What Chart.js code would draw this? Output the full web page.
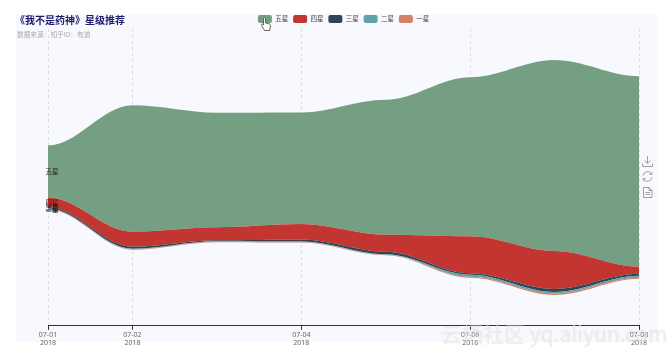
<!DOCTYPE html>
<html>
<head>
<meta charset="utf-8">
<script src="https://cdn.jsdelivr.net/npm/chart.js@4/dist/chart.umd.min.js"></script>
<style>
    html, body { margin: 0; padding: 0; background: #fff; }
    #wrap { position: relative; width: 672px; height: 355px; overflow: hidden; font-family: "Noto Sans CJK SC", sans-serif; }
    #panel { position: absolute; left: 16px; top: 14px; width: 642px; height: 328px; background: #f8f9fe; border-radius: 3px; }
    #chartBox { position: absolute; left: 0; top: 0; width: 672px; height: 355px; }
    #title { position: absolute; left: 15px; top: 13px; font-size: 10px; line-height: 14px; font-weight: 700; color: #1d1b6e; white-space: nowrap; }
    #sub { position: absolute; left: 17px; top: 29px; font-size: 6.7px; line-height: 10px; color: #aaa; white-space: nowrap; }
    #mark { position: absolute; left: 441px; top: 319px; font-size: 21px; line-height: 28px; color: rgba(255,255,255,.55); text-shadow: 0 0 1px rgba(120,120,120,.3); white-space: nowrap; font-family: "Noto Sans CJK SC", sans-serif; }
    svg { position: absolute; overflow: visible; }
</style>
</head>
<body>
<div id="wrap">
    <div id="panel"></div>
    <div id="chartBox"><canvas id="river" width="672" height="355"></canvas></div>
    <div id="title">《我不是药神》星级推荐</div>
    <div id="sub">数据来源：知乎ID：有道</div>
    <!-- toolbox icons -->
    <svg style="left:642px;top:156px" width="11" height="11" fill="none" stroke="#888" stroke-width=".8"><path d="M5.5 0v7M2.5 4.5l3 3 3-3M.5 7.5v3h10v-3"/></svg>
    <svg style="left:642px;top:171px" width="11" height="11" fill="none" stroke="#888" stroke-width=".8"><path d="M1 4.5A4.6 4.6 0 0 1 9.5 3M10 6.5A4.6 4.6 0 0 1 1.5 8M9.8 .8v2.6H7.2M1.2 10.2V7.6h2.6"/></svg>
    <svg style="left:643px;top:187px" width="10" height="11" fill="none" stroke="#888" stroke-width=".8"><path d="M.5 .5h5.5l3 3v7h-8.5zM6 .5v3h3M2.5 5.5h4.5M2.5 7.5h4.5"/></svg>
    <!-- mouse pointer from the screenshot -->
    <svg style="left:261px;top:17px" width="10" height="15" fill="#fff" stroke="#444" stroke-width=".8"><path d="M2.5 1.5c0-1.3 2-1.3 2 0v4.5l3.5.8c1 .3 1.5 1 1.4 2l-.6 4.7H3.5L.5 8.5c-.5-1 .7-1.8 1.500-1l.5.6z"/></svg>
    <div id="mark">云栖社区 yq.aliyun.com</div>
</div>
<script>
const days = [1, 2, 3, 4, 5, 6, 7, 8];
const tickDays = [1, 2, 4, 6, 8];
const tickLabels = ["07-01", "07-02", "07-04", "07-06", "07-08"];

const fiveStar  = [52, 126.5, 114.5, 111.5, 135, 159, 191, 190.5];
const fourStar  = [9.5, 15, 13, 15.5, 17, 37, 38, 7];
const threeStar = [1.5, 2, 1, 2, 2.5, 1.5, 3, 2];
const twoStar   = [0.5, 0.5, 0.5, 0.5, 0.5, 2, 1.5, 2];
const oneStar   = [0.5, 0.5, 0.5, 0.5, 0.5, 1, 1.5, 1];

const seriesNames  = ["一星", "二星", "三星", "四星", "五星"];
const seriesValues = [oneStar, twoStar, threeStar, fourStar, fiveStar];
const seriesColors = ["#d48265", "#61a0a8", "#2f4554", "#c23531", "#749f83"];

//-----------------------------------------------------------------------------
// theme river: an invisible series under the stack keeps it centred on the axis
//-----------------------------------------------------------------------------
const riverCentre = 148.5;
const riverTop = 297;
const handleLength = 0.35;
const baseline = days.map((d, i) => riverCentre - seriesValues.reduce((sum, s) => sum + s[i], 0) / 2);

function toPoints(values){
    return days.map((d, i) => ({ x: d, y: values[i] }));
}

const datasets = [{
    label: "baseline",
    data: toPoints(baseline),
    backgroundColor: "transparent",
    borderWidth: 0,
    pointRadius: 0,
    fill: false,
    tension: 0.4
}];

seriesNames.forEach((name, i) => {
    datasets.push({
        label: name,
        data: toPoints(seriesValues[i]),
        backgroundColor: seriesColors[i],
        borderColor: seriesColors[i],
        borderWidth: 0,
        pointRadius: 0,
        fill: "-1",
        tension: 0.4
    });
});

// the river curves leave every point flat, with short handles towards the neighbours
const flatCurves = {
    id: "flatCurves",
    afterDatasetsUpdate(chart){
        chart.data.datasets.forEach((ds, i) => {
            const meta = chart.getDatasetMeta(i);
            meta.dataset.updateControlPoints(chart.chartArea);
            const pts = meta.data;
            pts.forEach((p, n) => {
                const prev = pts[n - 1] || p;
                const next = pts[n + 1] || p;
                p.cp1x = p.x - (p.x - prev.x) * handleLength;
                p.cp1y = p.y;
                p.cp2x = p.x + (next.x - p.x) * handleLength;
                p.cp2y = p.y;
            });
        });
    }
};

// legend takes less height than chart.js gives it, so the grid reaches up beside it
const tightLegend = {
    id: "tightLegend",
    beforeLayout(chart){
        const legend = chart.legend;
        if (legend._tight) return;
        const fit = legend.fit;
        legend.fit = function(){
            fit.call(this);
            this.height -= 4;
        };
        legend._tight = true;
    }
};

// names at the left end of each band
const bandLabels = {
    id: "bandLabels",
    afterDatasetsDraw(chart){
        const ctx = chart.ctx;
        ctx.save();
        ctx.font = "6.5px 'Noto Sans CJK SC'";
        ctx.fillStyle = "#222";
        ctx.textAlign = "center";
        ctx.textBaseline = "middle";
        for (let i = 1; i < chart.data.datasets.length; i++) {
            const top = chart.getDatasetMeta(i).data[0];
            const below = chart.getDatasetMeta(i - 1).data[0];
            ctx.fillText(chart.data.datasets[i].label, top.x + 4, (top.y + below.y) / 2);
        }
        ctx.restore();
    }
};

new Chart(document.getElementById("river").getContext("2d"), {
    type: "line",
    data: { datasets },
    plugins: [tightLegend, flatCurves, bandLabels],
    options: {
        responsive: false,
        animation: false,
        layout: { padding: { left: 48, right: 33, top: 10, bottom: 7 } },
        plugins: {
            tooltip: { enabled: false },
            legend: {
                position: "top",
                labels: {
                    boxWidth: 14,
                    boxHeight: 8,
                    padding: 5,
                    color: "#444",
                    useBorderRadius: true,
                    borderRadius: 2,
                    font: { family: "'Noto Sans CJK SC'", size: 6.5 },
                    filter: item => item.text !== "baseline",
                    sort: (a, b) => b.datasetIndex - a.datasetIndex
                }
            }
        },
        scales: {
            x: {
                type: "linear",
                min: 1,
                max: 8,
                afterBuildTicks: axis => { axis.ticks = tickDays.map(v => ({ value: v })); },
                grid: { color: "#dcdcdc", tickColor: "#333", tickLength: 4, tickBorderDash: [] },
                border: { color: "#333", width: 1, dash: [3, 3] },
                ticks: {
                    autoSkip: false,
                    maxRotation: 0,
                    padding: 1,
                    color: "#666",
                    font: { family: "'Noto Sans'", size: 7, lineHeight: 1.15 },
                    callback: value => [tickLabels[tickDays.indexOf(value)], "2018"]
                }
            },
            y: {
                display: false,
                stacked: true,
                min: 0,
                max: riverTop
            }
        }
    }
});
</script>
</body>
</html>
